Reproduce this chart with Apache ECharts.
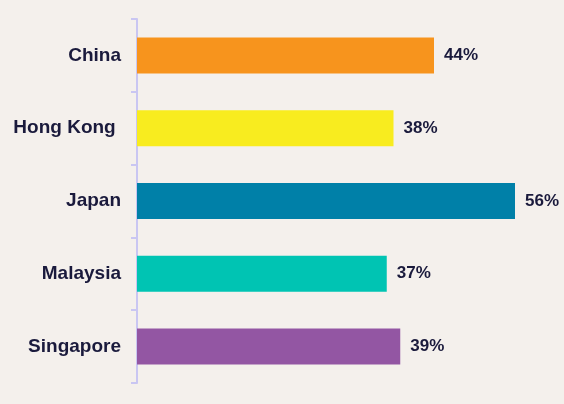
<!DOCTYPE html>
<html>
<head>
<meta charset="utf-8">
<script src="https://cdn.jsdelivr.net/npm/echarts@6/dist/echarts.min.js"></script>
<style>
  html, body { margin: 0; padding: 0; background: #f4f0ec; }
  #chart { width: 564px; height: 404px; }
</style>
</head>
<body>
<div id="chart"></div>
<script>
const countries = ['China', 'Hong Kong', 'Japan', 'Malaysia', 'Singapore']
const shares = [44, 38, 56, 37, 39]
const barColors = ['#f7941d', '#f8ec1f', '#0080a8', '#00c4b3', '#9356a3']

const chart = echarts.init(document.getElementById('chart'))
chart.setOption({
  backgroundColor: '#f4f0ec',
  animation: false,
  grid: { left: 137, right: 22, top: 19, bottom: 21 },
  xAxis: {
    type: 'value', min: 0, max: 60, show: false,
  },
  yAxis: {
    type: 'category',
    inverse: true,
    data: countries,
    axisLine: { show: true, lineStyle: { color: '#c9c6f2', width: 2 } },
    axisTick: { show: true, length: 6, lineStyle: { color: '#c9c6f2', width: 2 } },
    axisLabel: {
      color: '#1a1a3c', fontFamily: 'Liberation Sans, Arial', fontWeight: 'bold', fontSize: 19, margin: 16,
      formatter: (v) => v === 'Hong Kong' ? 'Hong Kong ' : v,
    },
  },
  series: [{
    type: 'bar',
    barWidth: 36,
    data: shares.map((v, i) => ({ value: v, itemStyle: { color: barColors[i] } })),
    label: {
      show: true, position: 'right', distance: 10,
      formatter: '{c}%',
      color: '#1a1a3c', fontFamily: 'Liberation Sans, Arial', fontWeight: 'bold', fontSize: 17,
    },
  }],
})
</script>
</body>
</html>
